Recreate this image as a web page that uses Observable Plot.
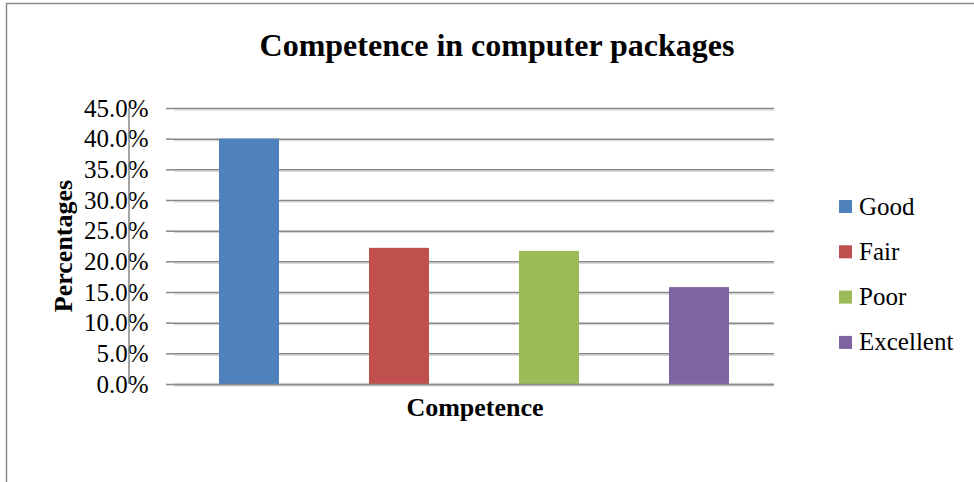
<!DOCTYPE html>
<html>
<head>
<meta charset="utf-8">
<script src="https://cdn.jsdelivr.net/npm/d3@7"></script>
<script src="https://cdn.jsdelivr.net/npm/@observablehq/plot@0.6"></script>
<style>
  html, body { margin: 0; padding: 0; background: #fff; }
  #chart svg { display: block; }
</style>
</head>
<body>
<div id="chart"></div>
<script>
// Competence levels, their share of respondents (%) and series colours
const categories = ["Good", "Fair", "Poor", "Excellent"];
const values = [40.0, 22.2, 21.7, 15.8];
const colors = ["#4f81bd", "#c0504d", "#9bbb59", "#8064a2"];
const yTicks = [0, 5, 10, 15, 20, 25, 30, 35, 40, 45];

const titleText = "Competence in computer packages";
const xLabel = "Competence";
const yLabel = "Percentages";

const data = categories.map((c, i) => ({ category: c, value: values[i] }));

const serif = "'Liberation Serif', 'Times New Roman', serif";
const gridColor = "#878787";

const chart = Plot.plot({
  width: 974,
  height: 482,
  marginLeft: 174,
  marginRight: 200,
  marginTop: 108,
  marginBottom: 98,
  style: { fontFamily: serif, fontSize: "25px", color: "#000", background: "#fff" },
  x: { domain: categories, paddingInner: 0.6, paddingOuter: 0.3, axis: null },
  y: { domain: [0, 45], axis: null },
  color: { domain: categories, range: colors },
  marks: [
    // horizontal gridlines with a faint shadow line below
    Plot.ruleY(yTicks, { stroke: "#d0d0d0", strokeWidth: 1, dy: 1.5 }),
    Plot.ruleY(yTicks, { stroke: gridColor, strokeWidth: 1.5 }),
    Plot.axisY({
      ticks: yTicks,
      tickSize: 8,
      tickPadding: 18,
      stroke: gridColor,
      strokeWidth: 1.5,
      tickFormat: d => d.toFixed(1) + "%",
      label: null,
      fontSize: 25,
      fill: "#000"
    }),
    Plot.barY(data, { x: "category", y: "value", fill: "category" }),
    Plot.ruleY([0], { stroke: gridColor, strokeWidth: 1.5 })
  ]
});

document.getElementById("chart").appendChild(chart);

const svg = d3.select(chart);
const xScale = chart.scale("x");
const yRange = chart.scale("y").range;
const plotLeft = Math.min(...xScale.range) - xScale.step * 0.3;
const plotTop = Math.min(...yRange);
const plotBottom = Math.max(...yRange);

// vertical value-axis line
svg.append("line")
  .attr("x1", plotLeft).attr("x2", plotLeft)
  .attr("y1", plotTop).attr("y2", plotBottom)
  .attr("stroke", gridColor).attr("stroke-width", 1.5);

// outer chart-area border (extends past the right and bottom edges)
svg.append("rect")
  .attr("x", 6.5).attr("y", 3.5)
  .attr("width", 1200).attr("height", 1200)
  .attr("fill", "none")
  .attr("stroke", "#8a8a8a").attr("stroke-width", 1.5);

// title
svg.append("text")
  .attr("x", 497).attr("y", 56)
  .attr("text-anchor", "middle")
  .attr("font-family", serif).attr("font-weight", "bold").attr("font-size", 32)
  .attr("fill", "#000")
  .text(titleText);

// x-axis title
svg.append("text")
  .attr("x", 475).attr("y", 416)
  .attr("text-anchor", "middle")
  .attr("font-family", serif).attr("font-weight", "bold").attr("font-size", 26)
  .attr("fill", "#000")
  .text(xLabel);

// y-axis title
svg.append("text")
  .attr("transform", "translate(72,246) rotate(-90)")
  .attr("text-anchor", "middle")
  .attr("font-family", serif).attr("font-weight", "bold").attr("font-size", 26)
  .attr("fill", "#000")
  .text(yLabel);

// legend
const legend = svg.append("g")
  .attr("font-family", serif).attr("font-size", 25)
  .attr("text-anchor", "start");
const rows = legend.selectAll("g").data(categories).join("g")
  .attr("transform", (d, i) => `translate(839, ${206.5 + i * 45.3})`);
rows.append("rect")
  .attr("x", 0).attr("y", -6.5).attr("width", 13).attr("height", 13)
  .attr("fill", (d, i) => colors[i]);
rows.append("text")
  .attr("x", 20).attr("y", 0).attr("dy", "0.32em")
  .attr("text-anchor", "start")
  .attr("fill", "#000")
  .text(d => d);
</script>
</body>
</html>
